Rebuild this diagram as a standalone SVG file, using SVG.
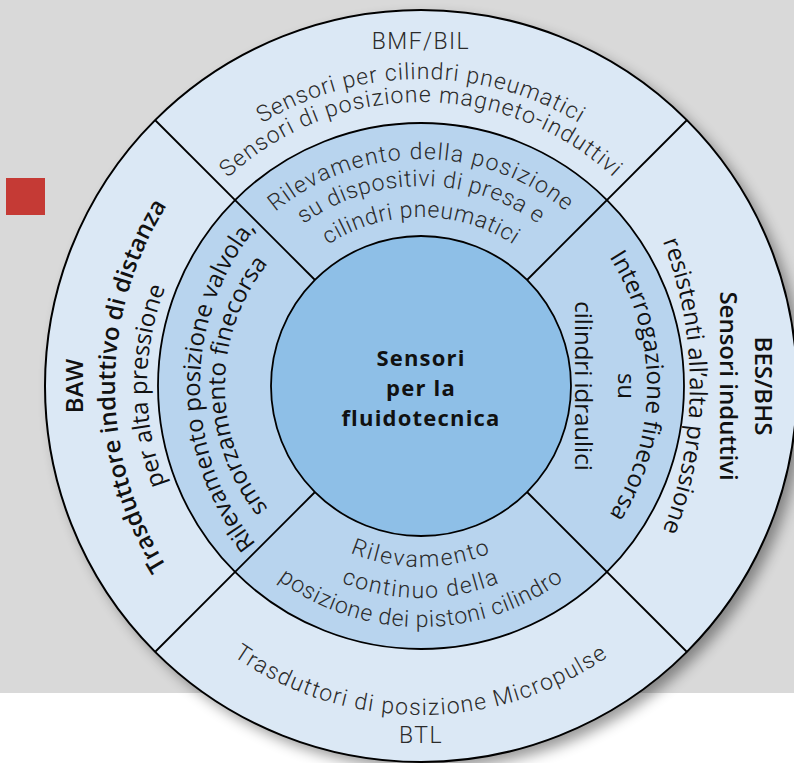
<svg xmlns="http://www.w3.org/2000/svg" width="794" height="763" viewBox="0 0 794 763">
<defs>
<style>
.lt{font-family:Roboto,'Open Sans','Liberation Sans',sans-serif;font-weight:300;font-size:23px;letter-spacing:1px;fill:#2b2b2b}
.md{font-family:'Open Sans','Noto Sans','DejaVu Sans',sans-serif;font-weight:500;font-size:24px;fill:#111}
.sb{font-weight:600}
.ctr{font-family:'Open Sans','Noto Sans','DejaVu Sans',sans-serif;font-weight:700;font-size:22px;letter-spacing:1.2px;fill:#111}
.ln{stroke:#000;stroke-width:1.8;fill:none}
</style>
<filter id="sh" x="-10%" y="-10%" width="120%" height="120%"><feGaussianBlur stdDeviation="7"/></filter>
<path id="tA" d="M114,386 A307,307 0 0 1 728,386"/>
<path id="tB" d="M137,386 A284,284 0 0 1 705,386"/>
<path id="tC" d="M194,386 A227,227 0 0 1 648,386"/>
<path id="tD" d="M221,386 A200,200 0 0 1 621,386"/>
<path id="tE" d="M252,386 A169,169 0 0 1 590,386"/>
<path id="bA" d="M240,386 A181,181 0 0 0 602,386"/>
<path id="bB" d="M209,386 A212,212 0 0 0 633,386"/>
<path id="bC" d="M180,386 A241,241 0 0 0 662,386"/>
<path id="bD" d="M92,386 A329,329 0 0 0 750,386"/>
<path id="lA" d="M455,726 A340,340 0 0 1 455,46"/>
<path id="lB" d="M421,660 A274,274 0 0 1 421,112"/>
<path id="lC" d="M450,636 A250,250 0 0 1 450,136"/>
<path id="lD" d="M421,582 A196,196 0 0 1 421,190"/>
<path id="rA" d="M290,-14 A400,400 0 0 1 290,786"/>
<path id="rB" d="M407,146 A240,240 0 0 1 407,626"/>
</defs>

<g id="background">
<rect x="0" y="0" width="794" height="763" fill="#ffffff"/>
<rect x="0" y="0" width="794" height="693" fill="#d9d9d9"/>
<rect x="6" y="178" width="39" height="37" fill="#c53a35"/>
<circle cx="428" cy="393" r="376" fill="#000" opacity="0.4" filter="url(#sh)"/>
</g>

<g id="rings">
<circle cx="421" cy="386" r="376" fill="#dbe8f5" stroke="#000" stroke-width="2"/>
<circle cx="421" cy="386" r="263" fill="#b8d4ee" stroke="#000" stroke-width="1.8"/>
</g>

<g id="dividers">
<line class="ln" x1="155" y1="120" x2="315" y2="280"/>
<line class="ln" x1="687" y1="120" x2="527" y2="280"/>
<line class="ln" x1="155" y1="652" x2="315" y2="492"/>
<line class="ln" x1="687" y1="652" x2="527" y2="492"/>
</g>

<g id="node-core">
<circle cx="421" cy="386" r="150" fill="#8ebfe7" stroke="#000" stroke-width="1.8"/>
<text class="ctr" text-anchor="middle" x="421" y="366">Sensori</text>
<text class="ctr" text-anchor="middle" x="421" y="396">per la</text>
<text class="ctr" text-anchor="middle" x="421" y="426">fluidotecnica</text>
</g>

<g id="node-bmf-bil">
<text class="lt" text-anchor="middle" x="421" y="49" style="letter-spacing:1.4px">BMF/BIL</text>
<text class="lt" style="letter-spacing:1px"><textPath href="#tA" startOffset="50%" text-anchor="middle">Sensori per cilindri pneumatici</textPath></text>
<text class="lt" style="letter-spacing:1.1px"><textPath href="#tB" startOffset="50%" text-anchor="middle">Sensori di posizione magneto-induttivi</textPath></text>
</g>

<g id="node-presa">
<text class="lt" style="letter-spacing:1.35px"><textPath href="#tC" startOffset="50%" text-anchor="middle">Rilevamento della posizione</textPath></text>
<text class="lt" style="letter-spacing:0.7px"><textPath href="#tD" startOffset="50%" text-anchor="middle">su dispositivi di presa e</textPath></text>
<text class="lt" style="letter-spacing:0.7px"><textPath href="#tE" startOffset="50%" text-anchor="middle">cilindri pneumatici</textPath></text>
</g>

<g id="node-pistoni">
<text class="lt" style="letter-spacing:1.9px"><textPath href="#bA" startOffset="50%" text-anchor="middle">Rilevamento</textPath></text>
<text class="lt" style="letter-spacing:1.6px"><textPath href="#bB" startOffset="50%" text-anchor="middle">continuo della</textPath></text>
<text class="lt" style="letter-spacing:0.75px"><textPath href="#bC" startOffset="50%" text-anchor="middle">posizione dei pistoni cilindro</textPath></text>
</g>

<g id="node-btl">
<text class="lt" style="letter-spacing:1.35px"><textPath href="#bD" startOffset="50%" text-anchor="middle">Trasduttori di posizione Micropulse</textPath></text>
<text class="lt" text-anchor="middle" x="421" y="743" style="letter-spacing:1.5px">BTL</text>
</g>

<g id="node-baw">
<text class="md sb" text-anchor="middle" transform="translate(83,386) rotate(-90)">BAW</text>
<text class="md sb"><textPath href="#lA" startOffset="50%" text-anchor="middle">Trasduttore induttivo di distanza</textPath></text>
<text class="md"><textPath href="#lB" startOffset="50%" text-anchor="middle">per alta pressione</textPath></text>
</g>

<g id="node-valvola">
<text class="md"><textPath href="#lC" startOffset="50%" text-anchor="middle">Rilevamento posizione valvola,</textPath></text>
<text class="md"><textPath href="#lD" startOffset="50%" text-anchor="middle">smorzamento finecorsa</textPath></text>
</g>

<g id="node-idraulici">
<text class="md"><textPath href="#rB" startOffset="50%" text-anchor="middle">Interrogazione finecorsa</textPath></text>
<text class="md" text-anchor="middle" transform="translate(618,386) rotate(90)">su</text>
<text class="md" text-anchor="middle" transform="translate(575,386) rotate(90)">cilindri idraulici</text>
</g>

<g id="node-bes-bhs">
<text class="md sb" text-anchor="middle" transform="translate(755,386) rotate(90)">BES/BHS</text>
<text class="md sb" text-anchor="middle" transform="translate(720,386) rotate(90)">Sensori induttivi</text>
<text class="md"><textPath href="#rA" startOffset="50%" text-anchor="middle">resistenti all’alta pressione</textPath></text>
</g>
</svg>
